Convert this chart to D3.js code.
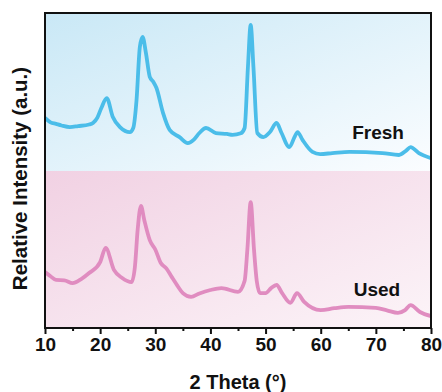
<!DOCTYPE html>
<html>
<head>
<meta charset="utf-8">
<script src="https://cdn.jsdelivr.net/npm/d3@7"></script>
<style>
html,body{margin:0;padding:0;background:#fff;}
svg{display:block;font-family:"Liberation Sans",Arial,sans-serif;}
</style>
</head>
<body>
<svg id="chart" width="442" height="392"></svg>
<script>
const freshTheta = [10,11,12,13,14.5,16,18,18.7,19.5,20.2,21.2,22.3,23.6,25.4,26,26.6,27.2,27.7,28.3,29,29.6,30.2,31.4,32.6,34.4,35.9,37,38,39.2,41,43,44,45.5,46.2,46.8,47.3,47.8,48.5,49.6,50.8,52,52.9,54.3,55.3,55.8,56.7,58.5,59.9,62.1,65.2,71.2,74.2,75.5,76.3,77.8,80];
const freshIntensity = [66.9,65.5,65,64.5,64.0,64.3,64.8,65.3,67,70,73.2,67.2,64.0,62.4,63.7,72.6,89.5,92.7,87.6,80,78.5,76.5,68.5,63.1,60.8,58.9,60,62.1,63.7,62.1,61.8,61.5,62,63.7,83.1,96.5,83.1,62.1,60.8,62.4,65.3,62.1,57.6,61,62.4,59.9,56.1,55.4,55.7,56.1,55.7,55.1,56.5,57.6,55.7,54.1];
const usedTheta = [10,11,12,13.5,15,16.5,18,20,21,22.5,24,25.7,26.3,26.8,27.4,28,29,30,31,32,33,34,35,36.5,38,40,42,45,46.2,46.7,47.3,47.9,48.4,49,50,51,52,53,54.5,55.7,57,60,62.5,65,70,72,74,75.3,76.3,78,80];
const usedIntensity = [17.8,16.5,15.3,15.2,14.3,15.5,17.5,21.0,25.5,18.5,15.9,14.6,19.4,31.2,38.9,34.4,28.0,25,20.7,19,16.2,13.5,11.1,9.9,11,12.1,12.7,11.5,15,25,40.1,25,15,11.1,11.1,12.7,13.7,11.1,8.0,11.1,8.3,5.7,6.3,6.7,6.4,5.6,4.8,5.7,7.3,5.1,3.8];
const seriesNames = ["Fresh","Used"];
const majorTicks = [10,20,30,40,50,60,70,80];
const minorTicks = [15,25,35,45,55,65,75];
const xTitle = "2 Theta (\u00b0)";
const yTitle = "Relative Intensity (a.u.)";

const svg = d3.select("#chart");
const L = 45, R = 431, T = 13, B = 328;
const x = d3.scaleLinear().domain([10,80]).range([L,R]);
const y = d3.scaleLinear().domain([0,100]).range([B,14]);

const defs = svg.append("defs");
const gb = defs.append("linearGradient").attr("id","gBlue").attr("x1","0").attr("y1","0").attr("x2","1").attr("y2","1");
gb.append("stop").attr("offset","0").attr("stop-color","#c9e8f6");
gb.append("stop").attr("offset","1").attr("stop-color","#fbfdff");
const gp = defs.append("linearGradient").attr("id","gPink").attr("x1","0").attr("y1","0").attr("x2","1").attr("y2","1");
gp.append("stop").attr("offset","0").attr("stop-color","#f1d1e3");
gp.append("stop").attr("offset","1").attr("stop-color","#fcf4f8");
defs.append("clipPath").attr("id","clip").append("rect").attr("x",L).attr("y",T).attr("width",R-L).attr("height",B-T);

svg.append("rect").attr("x",L).attr("y",T).attr("width",R-L).attr("height",y(50)-T).attr("fill","url(#gBlue)");
svg.append("rect").attr("x",L).attr("y",y(50)).attr("width",R-L).attr("height",B-y(50)).attr("fill","url(#gPink)");

const line = d3.line().x(d=>x(d[0])).y(d=>y(d[1])).curve(d3.curveMonotoneX);
const g = svg.append("g").attr("clip-path","url(#clip)");
g.append("path").datum(d3.zip(freshTheta,freshIntensity)).attr("d",line)
  .attr("fill","none").attr("stroke","#4bbde9").attr("stroke-width",3.8).attr("stroke-linejoin","round");
g.append("path").datum(d3.zip(usedTheta,usedIntensity)).attr("d",line)
  .attr("fill","none").attr("stroke","#e08cc0").attr("stroke-width",3.8).attr("stroke-linejoin","round");

// frame
svg.append("rect").attr("x",L).attr("y",T).attr("width",R-L).attr("height",B-T)
  .attr("fill","none").attr("stroke","#111").attr("stroke-width",2);

// x axis
const ax = svg.append("g").attr("transform",`translate(0,${B})`)
  .call(d3.axisBottom(x).tickValues(majorTicks).tickSize(6).tickPadding(4).tickFormat(d3.format("d")));
ax.select(".domain").remove();
ax.selectAll("line").attr("stroke","#111").attr("stroke-width",2);
ax.selectAll("text").attr("font-size",19).attr("font-weight","bold").attr("fill","#111");
const axm = svg.append("g").attr("transform",`translate(0,${B})`)
  .call(d3.axisBottom(x).tickValues(minorTicks).tickSize(3).tickFormat(""));
axm.select(".domain").remove();
axm.selectAll("line").attr("stroke","#111").attr("stroke-width",2);

svg.append("text").attr("x",(L+R)/2).attr("y",389).attr("text-anchor","middle")
  .attr("font-size",20).attr("font-weight","bold").attr("fill","#111").text(xTitle);
svg.append("text").attr("transform",`translate(27,${(T+B)/2+8}) rotate(-90)`).attr("text-anchor","middle")
  .attr("font-size",20.5).attr("font-weight","bold").attr("fill","#111").text(yTitle);

svg.append("text").attr("x",378).attr("y",139).attr("text-anchor","middle")
  .attr("font-size",19).attr("font-weight","bold").attr("fill","#111").text(seriesNames[0]);
svg.append("text").attr("x",377).attr("y",296).attr("text-anchor","middle")
  .attr("font-size",19).attr("font-weight","bold").attr("fill","#111").text(seriesNames[1]);
</script>
</body>
</html>
